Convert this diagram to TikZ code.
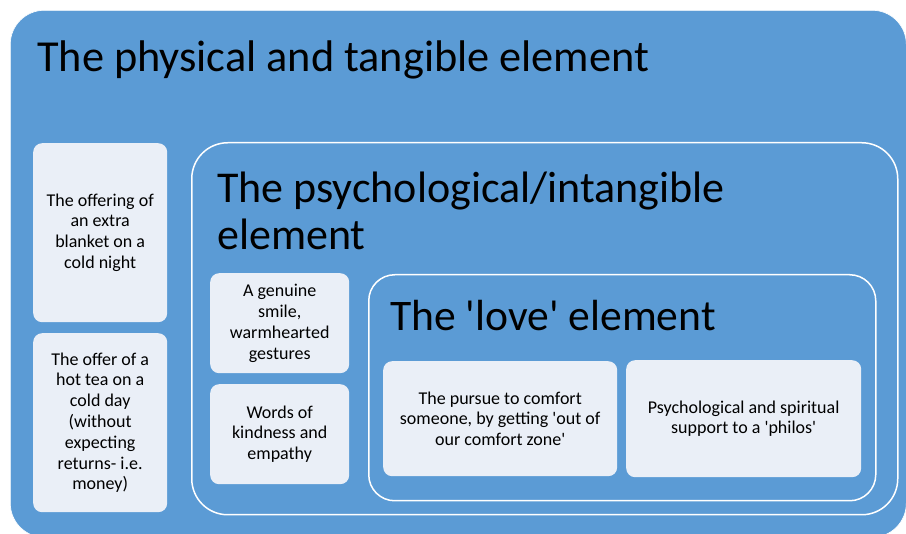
\documentclass[tikz,border=0pt]{standalone}
\usepackage{fontspec}
\setmainfont{Carlito}
\usetikzlibrary{positioning}
\definecolor{outerblue}{HTML}{5B9BD5}
\definecolor{paleblue}{HTML}{EAEFF7}
\newcommand{\sq}{\textquotesingle}

\begin{document}
\begin{tikzpicture}[x=1pt, y=-1pt,
  frame/.style = {rectangle, draw=white, line width=1.5pt, fill=outerblue, anchor=north west, inner sep=0pt},
  card/.style = {rectangle, rounded corners=9pt, fill=paleblue, anchor=north west, inner sep=0pt, align=center, font=\fontsize{18}{20.8}\selectfont},
  heading/.style = {anchor=base west, inner sep=0pt, align=left, font=\fontsize{44}{47}\selectfont}]

\useasboundingbox (0,0) rectangle (906,534);

\node[frame, rounded corners=34pt, line width=.6pt, minimum width=896pt, minimum height=527pt] (physical) at (10,10) {};
\node[heading, font=\fontsize{44.3}{48}\selectfont] (physicaltitle) at (37,72) {The physical and tangible element};

\node[card, minimum width=134pt, minimum height=179pt] (blanket) at (33,143) {The offering of\\an extra\\blanket on a\\cold night};
\node[card, minimum width=134pt, minimum height=179pt] (tea) at (33,333) {The offer of a\\hot tea on a\\cold day\\(without\\expecting\\returns- i.e.\\money)};

\node[frame, rounded corners=36pt, minimum width=706pt, minimum height=372pt] (psych) at (191,142) {};
% two lines: the base anchor sits on the last one
\node[heading] (psychtitle) at (217,250) {The psychological/intangible\\element};

\node[card, minimum width=139pt, minimum height=100pt] (smile) at (210,273) {A genuine\\smile,\\warmhearted\\gestures};
\node[card, minimum width=139pt, minimum height=100pt] (words) at (210,384) {Words of\\kindness and\\empathy};

\node[frame, rounded corners=26pt, minimum width=507pt, minimum height=226pt] (love) at (368,274) {};
\node[heading, font=\fontsize{43.6}{47}\selectfont] (lovetitle) at (390,331) {The \sq love\sq{} element};

\node[card, minimum width=234pt, minimum height=115pt] (pursue) at (383,361) {The pursue to comfort\\someone, by getting \sq out of\\our comfort zone\sq};
\node[card, minimum width=235pt, minimum height=117pt] (support) at (626,360) {Psychological and spiritual\\support to a \sq philos\sq};

\end{tikzpicture}
\end{document}
